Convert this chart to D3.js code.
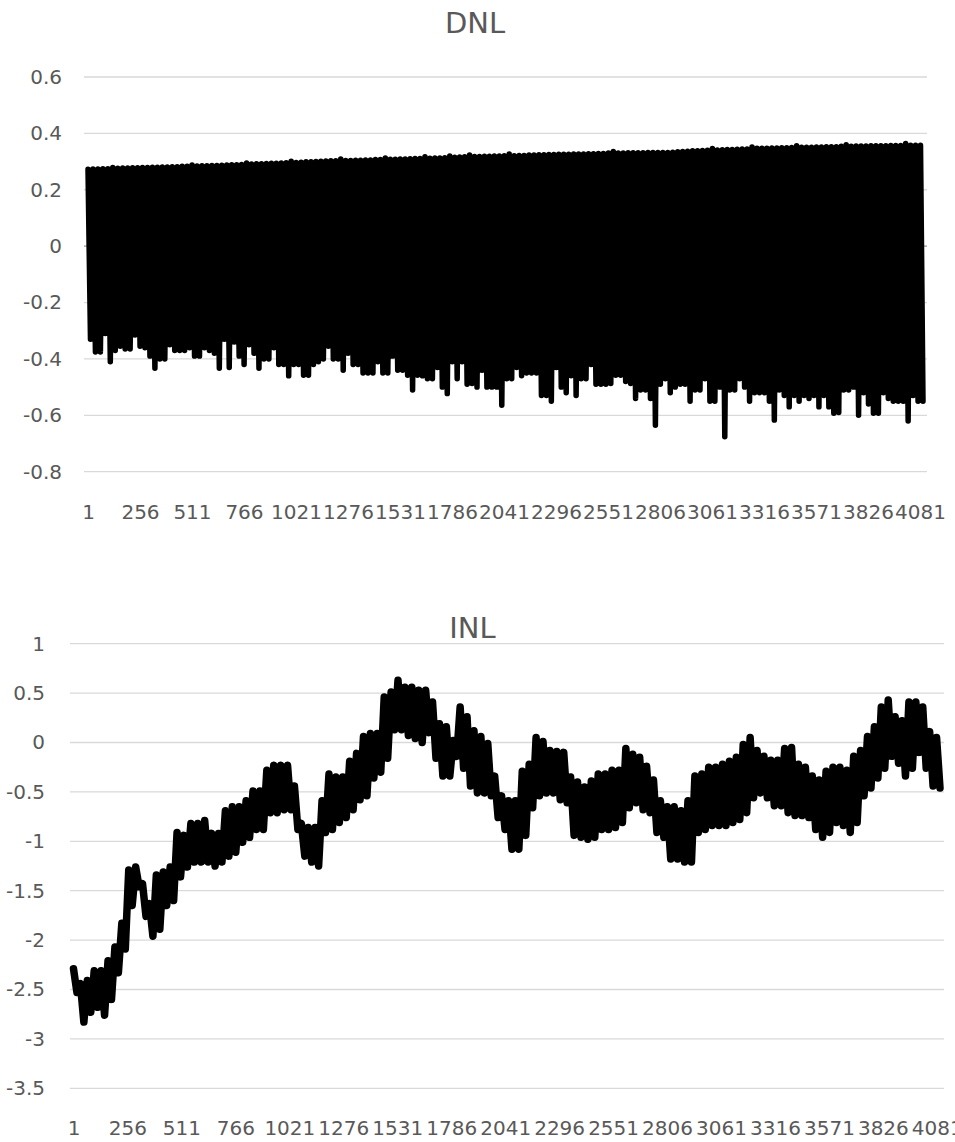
<!DOCTYPE html>
<html>
<head>
<meta charset="utf-8">
<script src="https://cdn.jsdelivr.net/npm/d3@7"></script>
<style>
body { margin: 0; background: #fff; }
</style>
</head>
<body>
<div id="chart"></div>
<script>
// category labels on the x axis (every 255 codes)
var xTicks = [1,256,511,766,1021,1276,1531,1786,2041,2296,2551,2806,3061,3316,3571,3826,4081];
var codeCount = 4096;

// DNL: per-bin top and bottom of the oscillation
var dnlTicks = [-0.8,-0.6,-0.4,-0.2,0,0.2,0.4,0.6];
var dnlHigh = [
  0.273,0.274,0.274,0.275,0.275,0.279,0.276,0.277,0.277,0.278,
  0.278,0.279,0.279,0.280,0.280,0.281,0.281,0.282,0.282,0.283,
  0.283,0.288,0.284,0.285,0.285,0.286,0.286,0.287,0.288,0.289,
  0.289,0.290,0.295,0.291,0.292,0.292,0.293,0.294,0.294,0.295,
  0.296,0.301,0.297,0.298,0.299,0.299,0.300,0.301,0.302,0.303,
  0.303,0.309,0.304,0.304,0.305,0.305,0.306,0.306,0.307,0.307,
  0.313,0.308,0.308,0.309,0.309,0.310,0.311,0.311,0.317,0.312,
  0.313,0.313,0.314,0.320,0.315,0.316,0.317,0.323,0.318,0.318,
  0.319,0.319,0.320,0.320,0.321,0.327,0.321,0.322,0.322,0.323,
  0.323,0.324,0.324,0.325,0.325,0.326,0.326,0.326,0.327,0.327,
  0.327,0.328,0.328,0.329,0.329,0.330,0.336,0.330,0.330,0.331,
  0.331,0.331,0.331,0.332,0.332,0.332,0.332,0.332,0.333,0.335,
  0.336,0.337,0.338,0.338,0.339,0.340,0.346,0.341,0.342,0.343,
  0.343,0.344,0.345,0.345,0.352,0.347,0.347,0.347,0.348,0.348,
  0.349,0.349,0.350,0.356,0.351,0.351,0.351,0.352,0.352,0.353,
  0.353,0.353,0.354,0.360,0.354,0.355,0.355,0.355,0.356,0.356,
  0.356,0.356,0.357,0.357,0.357,0.364,0.358,0.358,0.358
];
var dnlLow = [
  -0.33,-0.375,-0.375,-0.31,-0.41,-0.37,-0.355,-0.365,-0.365,-0.315,
  -0.355,-0.36,-0.39,-0.433,-0.40,-0.40,-0.35,-0.37,-0.37,-0.37,
  -0.36,-0.39,-0.39,-0.36,-0.37,-0.38,-0.433,-0.33,-0.43,-0.34,
  -0.39,-0.42,-0.35,-0.38,-0.433,-0.40,-0.40,-0.36,-0.42,-0.42,
  -0.46,-0.42,-0.42,-0.458,-0.458,-0.42,-0.41,-0.40,-0.355,-0.40,
  -0.40,-0.44,-0.38,-0.42,-0.42,-0.45,-0.45,-0.45,-0.41,-0.45,
  -0.45,-0.39,-0.44,-0.44,-0.458,-0.51,-0.458,-0.46,-0.47,-0.47,
  -0.43,-0.50,-0.523,-0.41,-0.47,-0.41,-0.49,-0.487,-0.50,-0.44,
  -0.50,-0.50,-0.50,-0.564,-0.47,-0.47,-0.43,-0.46,-0.45,-0.45,
  -0.45,-0.53,-0.53,-0.55,-0.43,-0.50,-0.52,-0.46,-0.53,-0.47,
  -0.47,-0.42,-0.49,-0.49,-0.49,-0.487,-0.458,-0.458,-0.48,-0.487,
  -0.54,-0.51,-0.51,-0.54,-0.635,-0.49,-0.47,-0.52,-0.50,-0.49,
  -0.49,-0.55,-0.51,-0.51,-0.47,-0.55,-0.55,-0.50,-0.676,-0.51,
  -0.51,-0.47,-0.50,-0.55,-0.52,-0.52,-0.52,-0.55,-0.617,-0.51,
  -0.53,-0.57,-0.53,-0.55,-0.53,-0.54,-0.53,-0.57,-0.53,-0.57,
  -0.593,-0.59,-0.51,-0.51,-0.50,-0.60,-0.52,-0.56,-0.593,-0.593,
  -0.52,-0.54,-0.55,-0.55,-0.55,-0.62,-0.53,-0.55,-0.55
];

// INL: per-bin top and bottom of the band
var inlTicks = [-3.5,-3,-2.5,-2,-1.5,-1,-0.5,0,0.5,1];
var inlHigh = [
  -2.29,-2.44,-2.41,-2.31,-2.31,-2.21,-2.07,-1.83,-1.29,-1.26,
  -1.43,-1.63,-1.34,-1.31,-1.26,-0.91,-0.94,-0.82,-0.82,-0.79,
  -0.92,-0.92,-0.69,-0.65,-0.65,-0.59,-0.49,-0.49,-0.28,-0.23,
  -0.23,-0.23,-0.44,-0.82,-0.86,-0.86,-0.59,-0.32,-0.35,-0.35,
  -0.19,-0.11,0.06,0.09,0.09,0.46,0.51,0.63,0.56,0.56,
  0.53,0.53,0.41,0.19,0.16,0.02,0.36,0.26,0.12,0.06,
  -0.01,-0.34,-0.54,-0.59,-0.59,-0.29,-0.22,0.05,0.01,-0.08,
  -0.09,-0.10,-0.35,-0.40,-0.45,-0.39,-0.32,-0.32,-0.28,-0.28,
  -0.06,-0.12,-0.15,-0.24,-0.38,-0.59,-0.65,-0.65,-0.69,-0.59,
  -0.34,-0.32,-0.25,-0.25,-0.22,-0.19,-0.15,-0.02,0.05,-0.08,
  -0.14,-0.18,-0.18,-0.06,-0.05,-0.22,-0.25,-0.34,-0.38,-0.29,
  -0.25,-0.25,-0.28,-0.14,-0.08,0.06,0.16,0.36,0.43,0.26,
  0.22,0.41,0.41,0.36,0.11,0.05
];
var inlLow = [
  -2.53,-2.83,-2.73,-2.68,-2.76,-2.60,-2.33,-2.09,-1.65,-1.46,
  -1.76,-1.96,-1.89,-1.65,-1.60,-1.36,-1.26,-1.21,-1.21,-1.21,
  -1.25,-1.21,-1.15,-1.11,-1.01,-0.96,-0.88,-0.88,-0.71,-0.71,
  -0.68,-0.68,-0.88,-1.15,-1.21,-1.25,-0.91,-0.88,-0.81,-0.76,
  -0.68,-0.58,-0.54,-0.36,-0.30,-0.16,0.13,0.13,0.07,0.04,
  0.00,0.10,-0.16,-0.34,-0.34,-0.14,-0.26,-0.44,-0.51,-0.51,
  -0.54,-0.76,-0.88,-1.08,-1.08,-0.94,-0.66,-0.54,-0.51,-0.51,
  -0.58,-0.61,-0.94,-0.96,-0.98,-0.96,-0.88,-0.88,-0.86,-0.81,
  -0.66,-0.61,-0.68,-0.71,-0.91,-0.96,-1.18,-1.18,-1.21,-1.21,
  -0.91,-0.88,-0.84,-0.84,-0.84,-0.81,-0.78,-0.71,-0.56,-0.51,
  -0.56,-0.64,-0.64,-0.71,-0.74,-0.74,-0.76,-0.88,-0.96,-0.91,
  -0.81,-0.84,-0.91,-0.81,-0.54,-0.46,-0.36,-0.26,-0.14,-0.21,
  -0.34,-0.26,-0.10,-0.26,-0.44,-0.46
];

var fontFamily = "'DejaVu Sans', sans-serif";
var textColor = "#595959";

var svg = d3.select("#chart").append("svg")
  .attr("width", 955).attr("height", 1142)
  .style("background", "#fff");

function drawChart(opt) {
  var x = d3.scaleLinear().domain([1, codeCount]).range([opt.dataLeft, opt.dataRight]);
  var y = d3.scaleLinear()
    .domain([opt.ticks[0], opt.ticks[opt.ticks.length - 1]])
    .range([opt.bottom, opt.top]);

  var g = svg.append("g");

  // gridlines
  g.selectAll("line.grid").data(opt.ticks).enter().append("line")
    .attr("class", "grid")
    .attr("x1", opt.gridLeft).attr("x2", opt.gridRight)
    .attr("y1", d => y(d)).attr("y2", d => y(d))
    .attr("stroke", "#d9d9d9").attr("stroke-width", 1.3);

  // category axis line on 0 (only shows a bit beside the DNL block)
  if (opt.axisLine) {
    g.append("line")
      .attr("x1", opt.gridLeft).attr("x2", opt.gridRight)
      .attr("y1", y(0)).attr("y2", y(0))
      .attr("stroke", "#a6a6a6").attr("stroke-width", 1.3);
  }

  // value labels
  var leftAxis = d3.axisLeft(y).tickValues(opt.ticks).tickSize(0)
    .tickPadding(opt.labelPad).tickFormat(d => String(d));
  var ly = g.append("g").attr("transform", `translate(${opt.gridLeft},0)`).call(leftAxis);
  ly.select(".domain").remove();
  ly.attr("font-family", fontFamily).attr("font-size", 20);
  ly.selectAll("text").attr("fill", textColor);

  // category labels
  var bottomAxis = d3.axisBottom(x).tickValues(xTicks).tickSize(0).tickPadding(0)
    .tickFormat(d => String(d));
  var lx = g.append("g").attr("transform", `translate(0,${opt.labelY})`).call(bottomAxis);
  lx.select(".domain").remove();
  lx.attr("font-family", fontFamily).attr("font-size", 20);
  lx.selectAll("text").attr("fill", textColor);

  // the series swings top -> bottom -> top ... along the codes
  var pts = [];
  opt.high.forEach(function(h, i) {
    pts.push({k: 2 * i, v: h});
    pts.push({k: 2 * i + 1, v: opt.low[i]});
  });
  var last = pts.length - 1;
  var line = d3.line()
    .x(d => x(1 + d.k * (codeCount - 1) / last))
    .y(d => y(d.v));
  g.append("path").datum(pts)
    .attr("d", line)
    .attr("fill", "none")
    .attr("stroke", "#000")
    .attr("stroke-width", opt.lineWidth)
    .attr("stroke-linejoin", "round")
    .attr("stroke-linecap", "round");

  // title
  g.append("text")
    .attr("x", opt.titleX).attr("y", opt.titleY)
    .attr("text-anchor", "middle")
    .attr("font-family", fontFamily).attr("font-size", 29)
    .attr("fill", textColor)
    .text(opt.title);
}

drawChart({
  title: "DNL", titleX: 475, titleY: 33,
  ticks: dnlTicks, high: dnlHigh, low: dnlLow,
  top: 77, bottom: 471.7, axisLine: true,
  gridLeft: 84, gridRight: 927, dataLeft: 88, dataRight: 923,
  labelPad: 22, labelY: 505, lineWidth: 5.5
});

drawChart({
  title: "INL", titleX: 472.5, titleY: 638,
  ticks: inlTicks, high: inlHigh, low: inlLow,
  top: 643.7, bottom: 1088.3, axisLine: false,
  gridLeft: 70, gridRight: 944, dataLeft: 73.5, dataRight: 940,
  labelPad: 25, labelY: 1120.5, lineWidth: 7.5
});
</script>
</body>
</html>
